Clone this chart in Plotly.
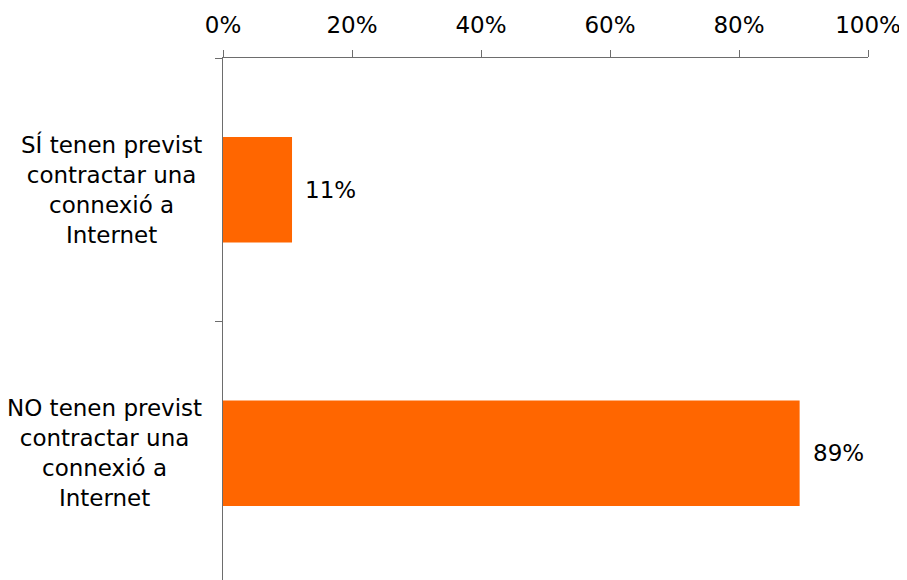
import plotly.graph_objects as go

categories = ["SÍ tenen previst<br>contractar una<br>connexió a<br>Internet",
              "NO tenen previst<br>contractar una<br>connexió a<br>Internet"]
values = [0.107, 0.894]
value_labels = ["11%", "89%"]
x_ticks = [0, 0.2, 0.4, 0.6, 0.8, 1.0]

FONT = "DejaVu Sans"
FS = 23
fig = go.Figure()
fig.add_trace(go.Bar(
    y=list(range(len(categories))), x=values, orientation="h",
    marker=dict(color="#FF6600", line=dict(width=0)),
    width=0.4, hoverinfo="skip",
))

annotations = []
for i, (v, t) in enumerate(zip(values, value_labels)):
    annotations.append(dict(x=v, y=i, xref="x", yref="y", text=t, showarrow=False,
                            xanchor="left", yanchor="middle", xshift=11,
                            font=dict(family=FONT, size=FS, color="#000")))
for i, c in enumerate(categories):
    annotations.append(dict(x=0, y=i, xref="paper", yref="y", text=c, showarrow=False,
                            xanchor="right", yanchor="middle", xshift=-19, align="center",
                            font=dict(family=FONT, size=FS, color="#000")))

# page body has an 8px margin, so the figure is drawn 8px in from the top-left
fig.update_layout(
    width=899, height=572,
    margin=dict(l=215, r=39, t=50, b=0, pad=0, autoexpand=False),
    plot_bgcolor="white", paper_bgcolor="white",
    showlegend=False,
    annotations=annotations,
    xaxis=dict(side="top", range=[0, 1], tickvals=x_ticks, tickformat=".0%",
               automargin=False, ticklabelstandoff=8, ticklabeloverflow="allow",
               showgrid=False, zeroline=False, showline=True, linecolor="#6d6d6d",
               linewidth=1, ticks="outside", ticklen=7, tickcolor="#6d6d6d",
               tickfont=dict(family=FONT, size=FS, color="#000")),
    yaxis=dict(range=[1.481, -0.5], tickvals=[-0.5, 0.5, 1.5], showticklabels=False,
               automargin=False,
               showgrid=False, zeroline=False, showline=True, linecolor="#6d6d6d",
               linewidth=1, ticks="outside", ticklen=7, tickcolor="#6d6d6d"),
)
fig.write_html("out.html")
